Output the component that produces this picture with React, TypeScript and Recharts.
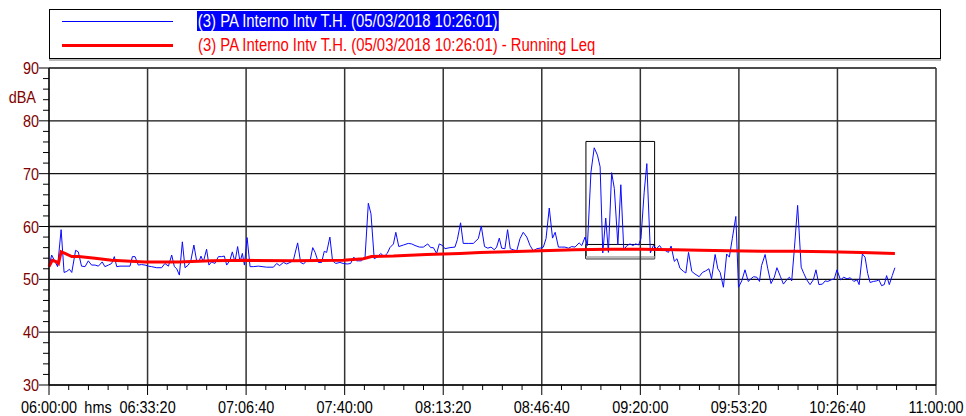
import { LineChart, Line, XAxis, YAxis, ReferenceLine, ReferenceArea } from 'recharts';

// minutes after 06:00:00 and dBA values
const levelMinutes = [
  0, 0.9, 1.8, 2.9, 4.1, 5.1, 6.0, 6.9, 7.7, 9.0, 9.9, 11.0, 12.2, 13.3, 14.4, 15.6, 16.7, 18.0, 18.9, 20.1,
  21.2, 22.1, 22.9, 24.0, 25.7, 27.4, 28.2, 29.1, 30.2, 31.3, 32.5, 33.6, 34.7, 36.4, 38.1, 39.2, 40.4, 41.5, 42.4, 43.2,
  44.1, 45.1, 46.0, 47.1, 48.0, 49.0, 49.9, 50.7, 51.4, 52.2, 53.3, 54.1, 55.0, 56.1, 57.3, 58.4, 59.3, 60.1, 61.2, 62.0,
  62.9, 63.8, 64.6, 65.4, 66.1, 67.0, 68.0, 69.1, 70.8, 73.6, 75.9, 77.0, 78.0, 79.3, 80.4, 81.5, 82.6, 84.1, 85.1, 86.1,
  87.1, 88.3, 89.2, 90.0, 91.1, 92.2, 93.1, 93.9, 95.0, 95.9, 97.0, 98.4, 99.5, 100.9, 102.0, 103.1, 104.0, 105.7, 106.9, 108.0,
  108.9, 110.0, 111.0, 112.2, 113.3, 114.4, 115.3, 116.5, 117.3, 118.3, 119.9, 121.5, 122.7, 123.8, 125.3, 126.6, 128.1, 129.1, 130.0, 131.1,
  132.0, 133.1, 133.9, 135.6, 137.3, 138.1, 139.2, 140.1, 141.8, 143.5, 145.2, 146.2, 147.3, 148.4, 149.5, 150.6, 151.4, 152.3, 153.1, 154.2,
  155.1, 156.0, 157.0, 158.2, 159.3, 160.4, 161.6, 162.7, 163.8, 165.0, 166.1, 167.2, 168.1, 169.2, 170.3, 171.2, 172.3, 173.4, 174.5, 175.7,
  176.8, 177.9, 179.3, 180.2, 181.3, 182.1, 183.3, 184.4, 185.5, 186.4, 187.3, 188.3, 189.2, 190.3, 191.2, 192.4, 193.4, 194.4, 195.5, 196.5,
  197.5, 198.4, 199.4, 200.2, 201.3, 202.2, 203.4, 204.4, 205.5, 206.5, 207.5, 208.6, 209.5, 210.4, 211.5, 212.4, 213.4, 214.6, 215.4, 216.3,
  217.4, 218.5, 219.9, 221.0, 222.1, 223.2, 224.1, 225.3, 226.2, 227.0, 228.1, 229.2, 230.1, 231.1, 232.3, 233.2, 234.3, 235.4, 236.5, 237.4,
  238.3, 239.4, 240.3, 241.0, 242.2, 243.1, 244.2, 245.3, 246.2, 247.4, 248.4, 249.5, 250.4, 251.2, 252.1, 253.2, 254.4, 255.3, 256.3, 257.4,
  258.5, 259.4, 260.4, 261.6, 262.5, 263.4, 264.5, 265.6, 266.5, 267.7, 268.8, 269.9, 271.0, 272.2, 273.3, 274.0, 275.1, 276.0, 276.9, 277.7,
  278.8, 279.9, 280.7, 281.6, 282.5, 283.3, 284.2, 285.2, 286.1,
];
const levelValues = [
  52.4, 54.6, 53.6, 52.4, 59.4, 51.3, 51.5, 51.9, 51.3, 55.5, 55.2, 52.5, 52.4, 53.5, 52.7, 52.7, 52.5, 53.3, 52.4, 52.7,
  53.0, 54.3, 52.4, 52.5, 52.5, 52.5, 54.3, 54.3, 52.7, 52.8, 52.7, 52.5, 52.4, 52.2, 52.2, 53.0, 52.5, 54.6, 52.4, 52.0,
  50.8, 57.1, 52.2, 52.7, 53.6, 56.5, 53.6, 53.3, 54.4, 53.3, 55.7, 52.7, 53.3, 53.0, 54.3, 54.3, 54.4, 52.7, 53.6, 55.2,
  53.3, 56.2, 53.3, 54.9, 52.7, 57.9, 52.4, 52.4, 52.5, 52.3, 52.3, 53.0, 52.6, 53.2, 52.9, 53.2, 53.5, 56.9, 53.2, 52.9,
  53.5, 53.5, 56.0, 55.1, 53.2, 53.2, 55.3, 55.1, 58.0, 53.5, 53.0, 53.2, 53.0, 52.9, 53.0, 54.2, 53.5, 53.5, 54.2, 64.4,
  62.4, 53.9, 54.2, 54.9, 54.3, 54.9, 56.0, 56.7, 58.9, 56.2, 56.5, 56.8, 56.7, 56.4, 56.1, 56.1, 56.7, 56.0, 56.0, 54.9,
  56.7, 56.4, 55.8, 56.0, 56.1, 57.5, 60.7, 56.8, 56.8, 56.8, 57.7, 60.1, 56.2, 55.9, 56.1, 55.6, 56.1, 57.8, 55.9, 55.8,
  59.4, 55.8, 55.6, 55.4, 57.7, 58.9, 58.0, 56.4, 55.4, 55.8, 55.9, 56.1, 57.7, 63.5, 57.8, 58.9, 56.1, 56.1, 56.1, 55.9,
  56.2, 56.1, 56.9, 56.4, 58.0, 56.4, 70.3, 74.9, 73.5, 71.3, 55.0, 61.6, 55.1, 70.2, 67.2, 56.5, 67.9, 55.6, 56.4, 56.7,
  56.4, 56.7, 56.5, 57.7, 66.5, 71.9, 55.0, 56.4, 55.8, 56.4, 55.6, 55.4, 55.1, 56.3, 53.4, 53.9, 52.1, 51.5, 51.2, 55.1,
  51.5, 51.0, 50.5, 51.3, 51.6, 52.0, 50.1, 54.7, 52.0, 51.3, 48.5, 54.8, 54.2, 57.7, 61.9, 48.5, 49.7, 51.8, 49.6, 50.1,
  50.5, 50.4, 49.6, 52.6, 54.7, 52.0, 49.2, 50.4, 52.2, 50.5, 49.1, 49.9, 50.4, 49.7, 55.8, 64.0, 52.3, 51.1, 49.9, 49.0,
  49.9, 51.8, 49.0, 49.1, 49.7, 49.6, 49.9, 50.1, 51.8, 49.9, 50.4, 50.1, 50.3, 49.6, 49.9, 49.0, 54.8, 54.2, 51.1, 49.4,
  49.6, 49.7, 49.9, 48.8, 49.0, 50.7, 49.0, 50.7, 52.2,
];

const leqMinutes = [
  0, 1.1, 2.6, 3.2, 4.1, 5.4, 7.7, 10, 15.6, 21.2, 32.5, 43.7, 55, 66.3, 82.6, 99.5, 106.3, 109.1, 116.5, 127.7,
  139, 145.8, 155.4, 166.6, 177.9, 189.2, 200.5, 211.7, 220.2, 229.8, 241, 252.3, 263.6, 274.9, 286.1,
];
const leqValues = [
  52.4, 53.6, 53.3, 53.0, 55.2, 54.9, 54.3, 54.3, 54.0, 53.6, 53.3, 53.3, 53.5, 53.6, 53.5, 53.6, 53.9, 54.3, 54.4, 54.7,
  54.9, 55.1, 55.2, 55.4, 55.6, 55.7, 55.7, 55.6, 55.5, 55.4, 55.3, 55.3, 55.2, 55.1, 54.9,
];

const xMajorTicks = [0, 2000, 4000, 6000, 8000, 10000, 12000, 14000, 16000, 18000];
const xTicks = Array.from({ length: 46 }, (_, i) => i * 400);
const yMajorTicks = [30, 40, 50, 60, 70, 80, 90];
const yTicks = Array.from({ length: 31 }, (_, i) => 30 + i * 2);

const levelData = levelMinutes.map((m, i) => ({ t: Math.round(m * 60), v: levelValues[i] }));
const leqData = leqMinutes.map((m, i) => ({ t: Math.round(m * 60), v: leqValues[i] }));

const FONT = '"Liberation Sans", Arial, sans-serif';
const SQUEEZE = 0.85;
const DARK_RED = '#800000';
const LEGEND_LABEL = '(3) PA Interno Intv T.H. (05/03/2018 10:26:01)';

function hms(sec: number): string {
  const total = 6 * 3600 + sec;
  const h = Math.floor(total / 3600);
  const m = Math.floor((total % 3600) / 60);
  const s = total % 60;
  const p = (n: number) => String(n).padStart(2, '0');
  return `${p(h)}:${p(m)}:${p(s)}`;
}

// the original uses a condensed face, so squeeze the text horizontally
function Label({ x, y, anchor, fill, children }: any) {
  return (
    <text
      transform={`translate(${x},${y}) scale(${SQUEEZE},1)`}
      textAnchor={anchor}
      fontSize={17}
      fontFamily={FONT}
      fill={fill}
    >
      {children}
    </text>
  );
}

function XTick({ x, y, payload }: any) {
  const t = payload.value;
  const major = t % 2000 === 0;
  return (
    <g>
      <line x1={x} x2={x} y1={y} y2={y + (major ? 10 : 5)} stroke="#000" />
      {major && (
        <Label x={x} y={y + 28} anchor="middle" fill="#000">
          {hms(t)}
        </Label>
      )}
      {t === 0 && (
        <Label x={x + 49} y={y + 28} anchor="middle" fill="#000">
          hms
        </Label>
      )}
    </g>
  );
}

function YTick({ x, y, payload }: any) {
  const v = payload.value;
  const major = v % 10 === 0;
  return (
    <g>
      <line x1={x - (major ? 10 : 6)} x2={x} y1={y} y2={y} stroke="#000" />
      {major && (
        <Label x={x - 10} y={y + 6} anchor="end" fill={DARK_RED}>
          {v}
        </Label>
      )}
      {v === 90 && (
        <Label x={x - 13} y={y + 35} anchor="end" fill={DARK_RED}>
          dBA
        </Label>
      )}
    </g>
  );
}

function ChartLegend() {
  const textStyle = {
    position: 'absolute' as const,
    height: 20,
    lineHeight: '20px',
    whiteSpace: 'nowrap' as const,
    transform: `scaleX(${SQUEEZE})`,
    transformOrigin: 'left center',
  };
  return (
    <div
      style={{
        position: 'absolute',
        left: 49,
        top: 9,
        width: 890,
        height: 48,
        border: '1px solid #000',
        boxShadow: '0 2px 0 #bbb',
        fontFamily: FONT,
        fontSize: 17.5,
        background: '#fff',
      }}
    >
      <div style={{ position: 'absolute', left: 12, top: 11, width: 111, borderTop: '1px solid #0000ff' }} />
      <div style={{ position: 'absolute', left: 12, top: 34, width: 111, borderTop: '3px solid #ff0000' }} />
      <div style={{ ...textStyle, left: 147, top: 1, padding: '0 1px', background: '#0000ff', color: '#fff' }}>
        {LEGEND_LABEL}
      </div>
      <div style={{ ...textStyle, left: 148, top: 25, color: '#ff0000' }}>{LEGEND_LABEL} - Running Leq</div>
    </div>
  );
}

export default function App() {
  return (
    <div style={{ position: 'absolute', left: 0, top: 0, width: 966, height: 416, background: '#fff' }}>
      <ChartLegend />
      <LineChart width={966} height={416} margin={{ top: 68, right: 30, bottom: 0, left: 0 }}>
        <XAxis
          type="number"
          dataKey="t"
          domain={[0, 18000]}
          ticks={xTicks}
          interval={0}
          tick={XTick}
          tickLine={false}
          tickSize={0}
          tickMargin={0}
          height={31}
          stroke="#000"
          allowDuplicatedCategory={false}
        />
        <YAxis
          type="number"
          domain={[30, 90]}
          ticks={yTicks}
          interval={0}
          tick={YTick}
          tickLine={false}
          tickSize={0}
          tickMargin={0}
          width={49}
          stroke="#000"
        />
        {yMajorTicks.map((v) => (
          <ReferenceLine key={'h' + v} y={v} stroke="#111" strokeWidth={1.3} />
        ))}
        {xMajorTicks.map((t) => (
          <ReferenceLine key={'v' + t} x={t} stroke="#333" strokeWidth={1.5} />
        ))}
        <Line
          data={levelData}
          dataKey="v"
          type="linear"
          stroke="#0a0aff"
          strokeWidth={1}
          dot={false}
          isAnimationActive={false}
        />
        <Line
          data={leqData}
          dataKey="v"
          type="linear"
          stroke="#ff0000"
          strokeWidth={3}
          dot={false}
          isAnimationActive={false}
        />
        <ReferenceArea x1={10896} x2={12290} y1={53.9} y2={76.1} fill="none" stroke="#000" strokeWidth={1} />
        <ReferenceArea x1={10896} x2={12290} y1={53.9} y2={56.6} fill="none" stroke="#000" strokeWidth={1} />
        <ReferenceArea x1={10896} x2={12290} y1={53.9} y2={54.4} fill="#bbb" fillOpacity={1} stroke="none" />
      </LineChart>
    </div>
  );
}
